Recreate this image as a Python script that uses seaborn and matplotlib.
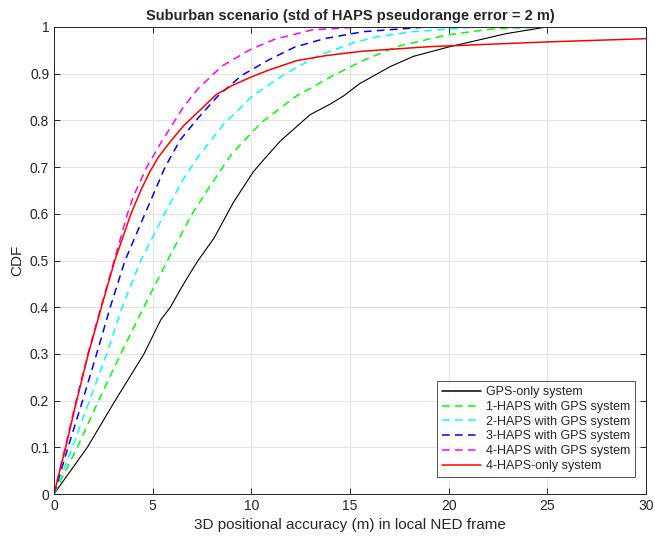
import numpy as np
import pandas as pd
import matplotlib
matplotlib.use('Agg')
import matplotlib.pyplot as plt
from matplotlib.ticker import FormatStrFormatter
import seaborn as sns

# series names (legend order)
systems = ['GPS-only system', '1-HAPS with GPS system', '2-HAPS with GPS system',
           '3-HAPS with GPS system', '4-HAPS with GPS system', '4-HAPS-only system']

# CDF curves: x = 3D error (m), y = CDF
gps_x = [0, 1.69, 3.1, 4.56, 5.41, 5.9, 6.39, 6.9, 7.3, 8.11, 9.1, 10.1, 10.61, 11.45, 12.97,
         14.0, 14.66, 15.5, 17.03, 18.2, 20.07, 21.1, 22.94, 24.97]
gps_y = [0, 0.1, 0.2, 0.3, 0.373, 0.4, 0.437, 0.473, 0.5, 0.548, 0.625, 0.69, 0.715, 0.755, 0.812,
         0.835, 0.852, 0.879, 0.915, 0.937, 0.958, 0.968, 0.986, 1.0]

h1_x = [0, 1.18, 2.26, 3.38, 4.55, 5.75, 7.0, 8.0, 9.0, 10.5, 12.2, 14.1, 15.6, 17.37,
        19.9, 22.44, 25.3]
h1_y = [0, 0.1, 0.2, 0.3, 0.4, 0.5, 0.6, 0.665, 0.728, 0.795, 0.85, 0.895, 0.927, 0.958,
        0.983, 0.997, 1.0]

h2_x = [0, 0.93, 1.8, 2.67, 3.45, 4.4, 5.6, 6.52, 7.3, 8.6, 10.1, 11.7, 13.31, 15.2, 16.5,
        18.2, 21.4]
h2_y = [0, 0.1, 0.2, 0.3, 0.4, 0.5, 0.6, 0.672, 0.722, 0.792, 0.854, 0.899, 0.937, 0.967, 0.98,
        0.99, 1.0]

h3_x = [0, 0.71, 1.45, 2.16, 2.85, 3.6, 4.61, 5.63, 6.39, 7.3, 8.3, 9.5, 10.9, 12.2, 13.7,
        15.67, 18.9]
h3_y = [0, 0.1, 0.2, 0.3, 0.4, 0.5, 0.6, 0.7, 0.758, 0.805, 0.852, 0.896, 0.93, 0.957, 0.975,
        0.99, 1.0]

h4_x = [0, 0.57, 1.12, 1.72, 2.38, 3.05, 3.72, 4.05, 4.7, 5.5, 5.88, 6.5, 7.3, 8.5, 10.0,
        11.2, 13.1, 15.5]
h4_y = [0, 0.1, 0.2, 0.3, 0.4, 0.5, 0.6, 0.64, 0.7, 0.758, 0.783, 0.825, 0.868, 0.916, 0.953,
        0.974, 0.994, 1.0]

haps_x = [0, 0.59, 1.15, 1.74, 2.4, 3.08, 3.9, 4.4, 4.83, 5.3, 5.96, 6.6, 7.4, 8.24, 9.09, 10.0,
          10.9, 12.3, 13.82, 15.6, 19.06, 24.97, 30]
haps_y = [0, 0.1, 0.2, 0.3, 0.4, 0.5, 0.6, 0.65, 0.688, 0.722, 0.758, 0.79, 0.822, 0.856, 0.876,
          0.893, 0.908, 0.928, 0.939, 0.948, 0.958, 0.968, 0.975]

xs = [gps_x, h1_x, h2_x, h3_x, h4_x, haps_x]
ys = [gps_y, h1_y, h2_y, h3_y, h4_y, haps_y]

df = pd.concat([pd.DataFrame({'err': x, 'cdf': y, 'system': s})
                for s, x, y in zip(systems, xs, ys)], ignore_index=True)

colors = dict(zip(systems, ['black', '#00ff00', '#00ffff', '#0000ff', '#ff00ff', '#ff0000']))
dash = (5, 3.5)
dashes = dict(zip(systems, ['', dash, dash, dash, dash, '']))

sns.set_style('white')
plt.rcParams['font.family'] = ['Liberation Sans', 'DejaVu Sans']

fig = plt.figure(figsize=(6.55, 5.36), dpi=100)
ax = fig.add_axes([54 / 655, 42 / 536, 592 / 655, 467 / 536])

sns.lineplot(data=df, x='err', y='cdf', hue='system', style='system',
             hue_order=systems, style_order=systems, palette=colors, dashes=dashes,
             estimator=None, sort=False, linewidth=1.1, ax=ax)
for line in ax.lines:
    if line.get_color() == 'black':
        line.set_linewidth(0.8)

ax.set_xlim(0, 30)
ax.set_ylim(0, 1)
ax.set_xticks(np.arange(0, 31, 5))
ax.set_yticks(np.arange(0, 1.01, 0.1))
ax.yaxis.set_major_formatter(FormatStrFormatter('%g'))
ax.grid(True, color='#e4e4e4', linewidth=0.8)
ax.set_axisbelow(True)
for sp in ax.spines.values():
    sp.set_color('#262626')
    sp.set_linewidth(0.7)
ax.tick_params(direction='in', length=4, width=0.7, color='#262626',
               labelsize=10, labelcolor='#262626', top=True, right=True,
               bottom=True, left=True)

ax.set_title('Suburban scenario (std of HAPS pseudorange error = 2 m)',
             fontsize=10.5, fontweight='bold', pad=5)
ax.set_xlabel('3D positional accuracy (m) in local NED frame', fontsize=11, color='#262626')
ax.set_ylabel('CDF', fontsize=11, color='#262626')

sns.move_legend(ax, 'lower right', bbox_to_anchor=(581 / 592, 17 / 467), title=None,
                frameon=True, fancybox=False, fontsize=9, handlelength=3.1,
                handletextpad=0.4, labelspacing=0.22, borderpad=0.4, borderaxespad=0)
leg = ax.get_legend()
leg.get_frame().set_edgecolor('#262626')
leg.get_frame().set_linewidth(0.7)

fig.savefig('out.png', dpi=100)
